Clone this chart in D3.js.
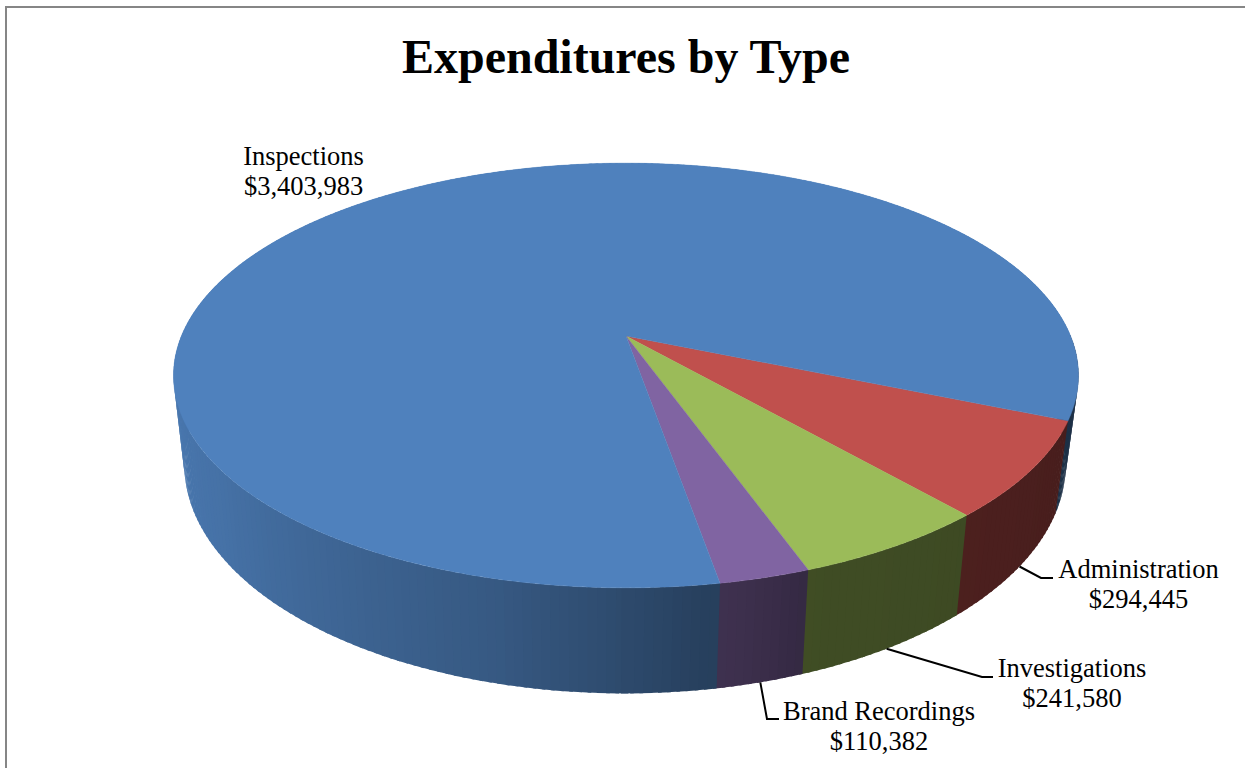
<!DOCTYPE html>
<html>
<head>
<meta charset="utf-8">
<script src="https://cdn.jsdelivr.net/npm/d3@7"></script>
<style>
  html, body { margin: 0; padding: 0; background: #fff; }
  svg { display: block; }
  text { font-family: "Liberation Serif", serif; fill: #000; }
</style>
</head>
<body>
<svg id="chart" width="1245" height="768"></svg>
<script>
const categories = ["Administration", "Investigations", "Brand Recordings", "Inspections"];
const expenditures = [294445, 241580, 110382, 3403983];
const topColors = ["#C0504D", "#9BBB59", "#8064A2", "#4F81BD"];
const chartTitle = "Expenditures by Type";

const width = 1245, height = 768;
const svg = d3.select("#chart");
const money = d3.format("$,");

// Perspective disc: a circle seen from above, with its near edge stretched.
const perspective = -0.186;
const topRim = { cx: 626, cy: 336, a: 444.6, b: 205 };
const bottomRim = { cx: 625, cy: 421.9, a: 433, b: 221 };
function project(rim, angle) {
  const s = Math.sin(angle), c = -Math.cos(angle);
  const d = 1 + perspective * c;
  return [rim.cx + rim.a * s / d, rim.cy + rim.b * c / d];
}

const deg = Math.PI / 180;
const pie = d3.pie().sort(null)
  .startAngle(112.6 * deg)
  .endAngle((112.6 + 360) * deg);
const slices = pie(expenditures).map((d, i) => ({ ...d, name: categories[i], color: topColors[i] }));

// Wall brightness against the angle around the disc, in degrees.
const wallShade = d3.scaleLinear()
  .domain([100, 130, 160, 168, 172, 183, 194, 213, 235, 270])
  .range([0.36, 0.39, 0.41, 0.48, 0.50, 0.60, 0.69, 0.78, 0.88, 0.95])
  .clamp(true);
function shaded(color, angle) {
  const a = ((angle / deg) % 360 + 360) % 360;
  const t = wallShade(a < 90 ? a + 360 : a);
  const c = d3.rgb(color);
  return d3.rgb(c.r * t, c.g * t, c.b * t).formatHex();
}

// Side wall, built from narrow facets so the shading steps around the disc.
// Each facet runs slightly under its nearer neighbour, which hides the joins.
const facetStep = 1 * deg;
const facetLap = 0.4 * deg;
const facets = [];
slices.forEach(s => {
  const n = Math.max(1, Math.ceil((s.endAngle - s.startAngle) / facetStep));
  d3.range(n).forEach(k => {
    const a0 = s.startAngle + (s.endAngle - s.startAngle) * k / n;
    const a1 = s.startAngle + (s.endAngle - s.startAngle) * (k + 1) / n;
    const mid = (a0 + a1) / 2;
    const rightSide = Math.sin(mid) > 0;
    facets.push({
      a0: rightSide ? a0 : a0 - facetLap,
      a1: rightSide ? a1 + facetLap : a1,
      mid,
      color: shaded(s.color, mid)
    });
  });
});
facets.sort((p, q) => d3.ascending(-Math.cos(p.mid), -Math.cos(q.mid)));

const line = d3.line();
svg.append("g").selectAll("path").data(facets).join("path")
  .attr("d", f => line([project(topRim, f.a0), project(topRim, f.a1),
                        project(bottomRim, f.a1), project(bottomRim, f.a0)]) + "Z")
  .attr("fill", f => f.color);

// Top face of each slice.
const rimStep = 0.5 * deg;
svg.append("g").selectAll("path").data(slices).join("path")
  .attr("d", s => {
    const angles = d3.range(s.startAngle, s.endAngle, rimStep).concat(s.endAngle);
    return line([[topRim.cx, topRim.cy], ...angles.map(a => project(topRim, a))]) + "Z";
  })
  .attr("fill", s => s.color)
  .attr("stroke", s => s.color)
  .attr("stroke-width", 0.4);

// Leader lines run from the lower rim at the middle of each slice.
const leaders = [
  { slice: 0, elbow: [1041, 578], end: [1053, 578] },
  { slice: 1, elbow: [982, 677], end: [993, 677] },
  { slice: 2, elbow: [767, 719], end: [779, 719] }
];
svg.append("g").selectAll("path").data(leaders).join("path")
  .attr("d", l => {
    const s = slices[l.slice];
    return line([project(bottomRim, (s.startAngle + s.endAngle) / 2), l.elbow, l.end]);
  })
  .attr("fill", "none")
  .attr("stroke", "#000")
  .attr("stroke-width", 2);

// Two-line category and amount labels.
const labelSpots = [
  { slice: 0, x: 1138.5, y: 578 },
  { slice: 1, x: 1072, y: 677 },
  { slice: 2, x: 879, y: 720 },
  { slice: 3, x: 303.5, y: 165 }
];
const labels = svg.append("g").selectAll("text").data(labelSpots).join("text")
  .attr("text-anchor", "middle")
  .attr("font-size", 26.5);
labels.append("tspan").attr("x", d => d.x).attr("y", d => d.y)
  .text(d => slices[d.slice].name);
labels.append("tspan").attr("x", d => d.x).attr("y", d => d.y + 29.5)
  .text(d => money(slices[d.slice].value));

svg.append("text")
  .attr("x", 626).attr("y", 73)
  .attr("text-anchor", "middle")
  .attr("font-size", 48)
  .attr("font-weight", "bold")
  .text(chartTitle);

// Chart frame, open at the window edges.
svg.append("path")
  .attr("d", line([[6, height + 2], [6, 7], [width + 2, 7]]))
  .attr("fill", "none")
  .attr("stroke", "#868686")
  .attr("stroke-width", 2);
</script>
</body>
</html>
